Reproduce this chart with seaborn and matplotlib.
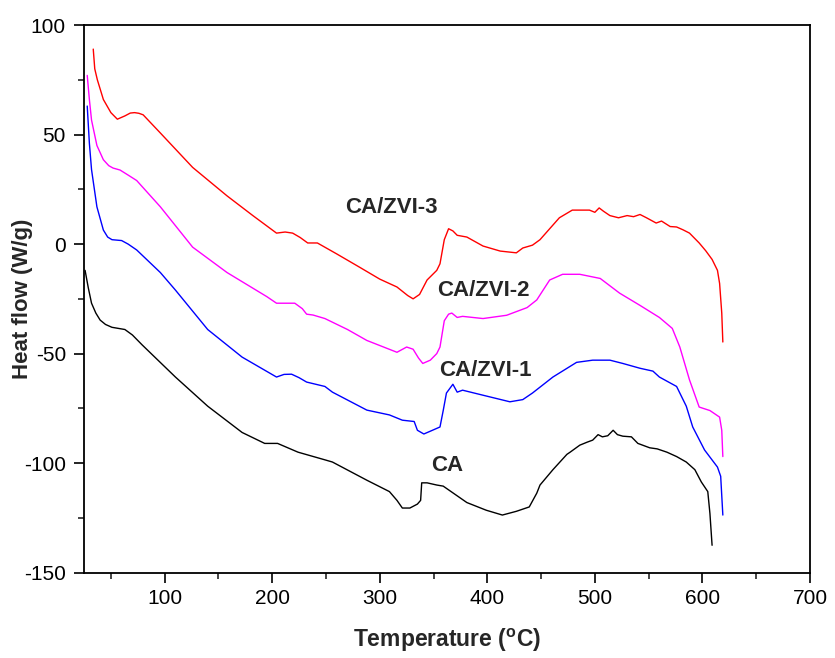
import numpy as np
import pandas as pd
import matplotlib
matplotlib.use("Agg")
import matplotlib.pyplot as plt
import seaborn as sns
from matplotlib.ticker import MultipleLocator

# ---- data ----
zvi3_x = [33.6, 35, 37.4, 43, 50, 56, 63, 68, 72, 76, 80, 96, 126, 158, 182, 204, 212, 219, 226, 233, 242, 260, 281,
          300, 316, 326, 331, 337, 344, 353, 356, 360, 364, 368, 372, 381, 396, 412, 427, 433, 442, 449,
          458, 467, 479, 495, 500, 504, 508, 514, 522, 530, 536, 542, 548, 557, 562, 570, 576, 582, 588,
          597, 603, 609, 614, 616, 618, 619]
zvi3_y = [89, 80, 75, 66, 60, 57, 58.5, 59.8, 60, 59.7, 59, 50.7, 35, 22, 13, 5, 5.5, 5, 3, 0.5, 0.5, -4.5, -10.5,
          -16, -19.6, -23.5, -25, -23, -16.4, -12, -9, 2, 7, 6, 4, 3.2, -0.9, -3.2, -4, -1.8, -0.5, 2,
          7, 12, 15.5, 15.5, 14.5, 16.5, 15, 13, 12, 13, 12.5, 13.5, 12, 9.6, 10.5, 8, 7.8, 6.5, 5,
          0.5, -3, -7, -12, -18, -31.5, -44.7]

zvi2_x = [28, 30, 32, 37, 43, 48, 52, 58.5, 66, 74, 96, 126, 158, 195, 204, 212, 221, 228, 232, 238, 249,
          270, 288, 316, 325, 331, 336, 340, 347, 353, 356, 360, 364, 367, 372, 377, 396, 418, 437, 446,
          458, 470, 486, 505, 523, 542, 560, 572, 579, 588, 597, 607, 616, 618, 619]
zvi2_y = [77, 66, 56.6, 45, 38.5, 35.8, 34.7, 33.8, 31.5, 29, 17, -1.4, -13, -24, -27, -27, -27, -29.5, -32,
          -32.4, -34, -39, -44, -49.4, -47, -48, -52, -54.5, -53, -50, -47, -35, -32, -31.5, -33.5, -33,
          -34, -32.5, -29, -25.5, -16.4, -13.8, -13.8, -15.7, -22.4, -28, -33.5, -38.5, -47, -62, -74.4,
          -76, -79, -85, -97]

zvi1_x = [28, 30, 32, 37, 43, 47, 51, 60, 66, 74, 96, 110, 140, 172, 204, 211, 218, 225, 232, 249, 256, 288,
          309, 321, 332, 335, 341, 349, 356, 359, 362, 368, 372, 377, 396, 421, 433, 442, 461, 483, 498,
          514, 526, 542, 554, 560, 576, 585, 591, 602, 614, 617, 619]
zvi1_y = [63, 46, 34, 17, 6.4, 3.2, 2, 1.6, 0, -2.7, -13, -21, -39, -51.6, -60.7, -59.5, -59.4, -61, -63, -65,
          -67.6, -75.8, -78, -80.4, -81, -85, -86.7, -85, -83.5, -76, -68, -64, -67.6, -66.7, -69, -72,
          -71, -68, -60.7, -54, -53, -53, -54.5, -56.7, -58, -60.7, -65, -74, -83.5, -94, -101.8, -106,
          -123.7]

ca_x = [26, 29, 32, 36, 40, 45, 51, 63, 70, 79, 110, 140, 172, 193, 205, 224, 249, 256, 288, 309, 316, 321,
        328, 335, 338, 339, 344, 353, 359, 381, 399, 414, 427, 439, 446, 449, 461, 474, 477, 486, 493,
        498, 503, 507, 512, 517, 521, 526, 534, 540, 551, 558, 567, 576, 585, 593, 599, 605, 607, 609]
ca_y = [-12, -20, -27, -31.5, -34.7, -36.7, -38, -39, -41.5, -46, -60.7, -74, -86, -91, -91, -95, -98.5, -99.5,
        -107.8, -113, -117, -120.5, -120.5, -118.7, -117, -109, -109, -110, -110.5, -118, -121.5,
        -123.7, -122, -120, -113.7, -110, -103, -96, -95, -91.8, -90.4, -89.5, -87, -88, -87.5, -85,
        -87, -87.7, -88, -91, -93, -93.5, -95, -97, -99.5, -103, -108.6, -113, -123, -137.5]

series_names = ["CA/ZVI-3", "CA/ZVI-2", "CA/ZVI-1", "CA"]
series_colors = ["#ff0000", "#ff00ff", "#0000ff", "#000000"]
label_x = [311, 396, 398, 363]
label_y = [16.5, -21, -57.5, -101]

x_ticks = [100, 200, 300, 400, 500, 600, 700]
y_ticks = [-150, -100, -50, 0, 50, 100]

# ---- plot ----
sns.set_style("ticks")
plt.rcParams["font.family"] = ["Liberation Sans", "DejaVu Sans"]
plt.rcParams["axes.unicode_minus"] = False

fig = plt.figure(figsize=(8.35, 6.58), dpi=100)
ax = fig.add_axes([0.1006, 0.1297, 0.8694, 0.8323])

data = [(zvi3_x, zvi3_y), (zvi2_x, zvi2_y), (zvi1_x, zvi1_y), (ca_x, ca_y)]
for (xs, ys), name, col in zip(data, series_names, series_colors):
    df = pd.DataFrame({"T": xs, "H": ys})
    sns.lineplot(data=df, x="T", y="H", ax=ax, color=col, linewidth=1.0, sort=False,
                 estimator=None)

for name, lx, ly in zip(series_names, label_x, label_y):
    ax.text(lx, ly, name, fontsize=16, fontweight="bold", ha="center", va="center")

ax.set_xlim(25, 700)
ax.set_ylim(-150, 100)
ax.set_xticks(x_ticks)
ax.set_yticks(y_ticks)
ax.xaxis.set_minor_locator(MultipleLocator(50))
ax.yaxis.set_minor_locator(MultipleLocator(25))
ax.tick_params(which="major", direction="out", length=7, width=1.2, labelsize=15, colors="black")
ax.tick_params(which="minor", direction="out", length=4, width=1.2)
ax.tick_params(axis="x", which="major", pad=4.5)
ax.tick_params(axis="y", which="major", pad=6)
ax.tick_params(top=False, right=False, which="both")
for s in ax.spines.values():
    s.set_visible(True)
    s.set_linewidth(1.3)
    s.set_color("black")

ax.set_xlabel("Temperature ($\\mathregular{^{o}}$C)", fontsize=16.5, fontweight="bold", labelpad=14)
ax.set_ylabel("Heat flow (W/g)", fontsize=16, fontweight="bold")
ax.yaxis.set_label_coords(-0.070, 0.5)

fig.savefig("out.png", dpi=100)
